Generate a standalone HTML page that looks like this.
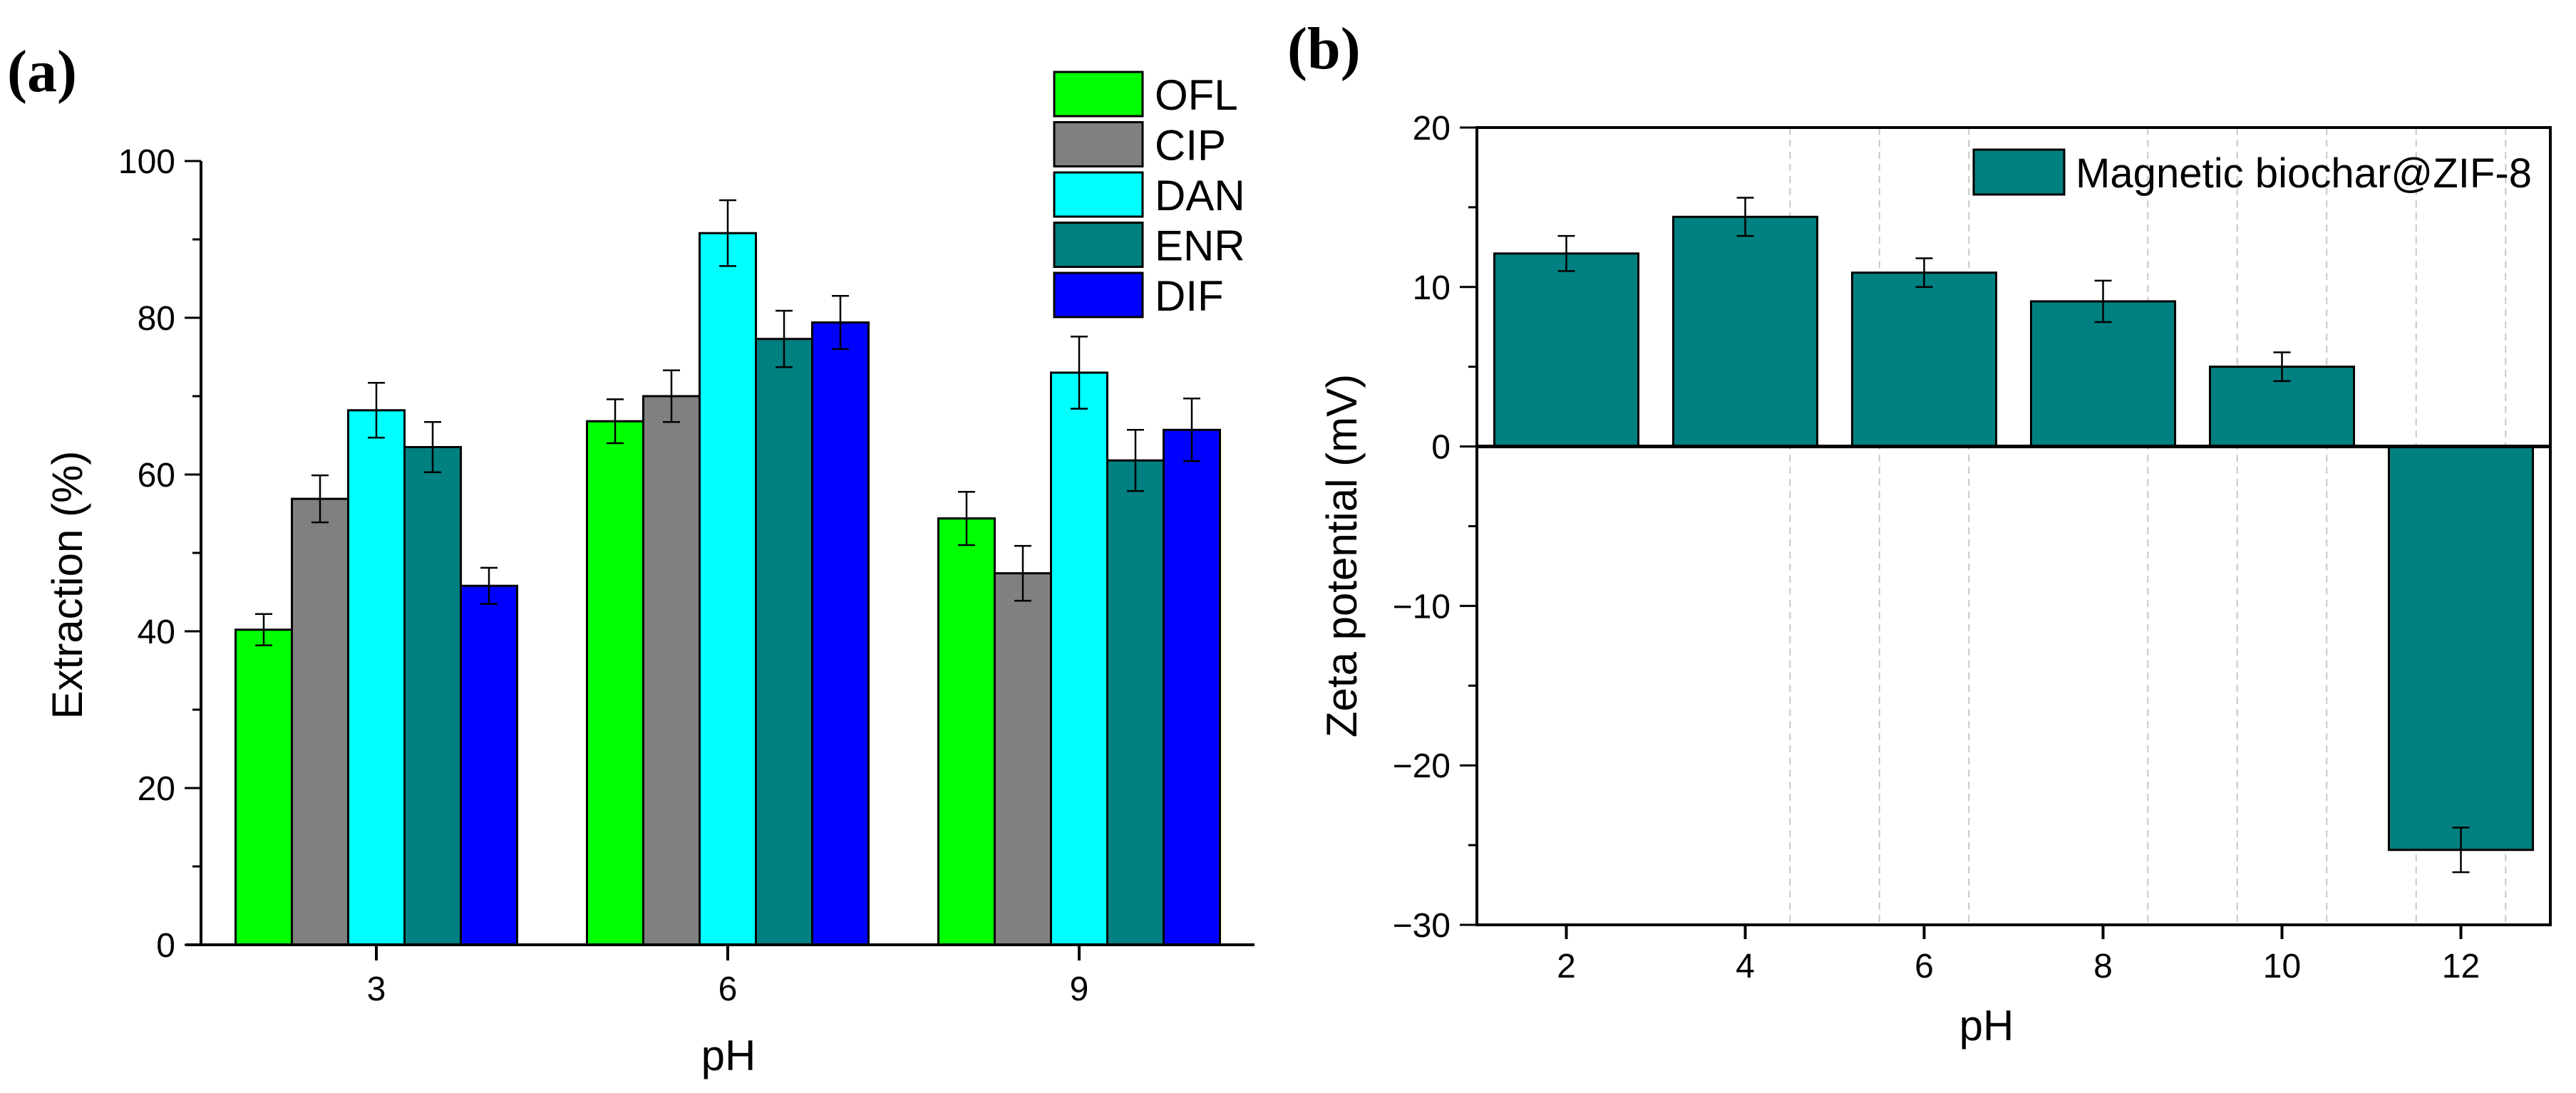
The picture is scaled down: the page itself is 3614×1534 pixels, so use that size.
<!DOCTYPE html>
<html><head><meta charset="utf-8"><style>
html,body{margin:0;padding:0;background:#fff;}
svg{display:block;font-family:"Liberation Sans",Arial,sans-serif;}
</style></head><body>
<svg id="fig" width="3614" height="1534" viewBox="0 0 3614 1534">
<text x="10" y="128" font-family="Liberation Serif, serif" font-weight="bold" font-size="84">(a)</text>
<text x="1806" y="96" font-family="Liberation Serif, serif" font-weight="bold" font-size="84">(b)</text>
<g id="ca"></g>
<g id="cb"></g>
</svg>
<script>
// Chart A data
const aCategories = ["3","6","9"];
const aSeries = ["OFL","CIP","DAN","ENR","DIF"];
const aColors = ["#00ff00","#808080","#00ffff","#008080","#0000ff"];
const aOFL = [40.2,66.8,54.4];
const aCIP = [56.9,70.0,47.4];
const aDAN = [68.2,90.8,73.0];
const aENR = [63.5,77.3,61.8];
const aDIF = [45.8,79.4,65.7];
const aErrOFL = [2.0,2.8,3.4];
const aErrCIP = [3.0,3.3,3.5];
const aErrDAN = [3.5,4.2,4.6];
const aErrENR = [3.2,3.6,3.9];
const aErrDIF = [2.3,3.4,4.0];
const aYTicks = [0,20,40,60,80,100];
// Chart B data
const bCategories = [2,4,6,8,10,12];
const bValues = [12.1,14.4,10.9,9.1,5.0,-25.3];
const bErrors = [1.1,1.2,0.9,1.3,0.9,1.4];
const bYTicks = [20,10,0,-10,-20,-30];
const bGrid = [4.5,5.5,6.5,8.5,9.5,10.5,11.5,12.5];

const NS="http://www.w3.org/2000/svg";
function mk(parent,tag,attrs,text){const e=document.createElementNS(NS,tag);for(const k in attrs)e.setAttribute(k,attrs[k]);if(text!==undefined)e.textContent=text;parent.appendChild(e);return e;}

// ---------- Chart A ----------
const ga=document.getElementById('ca');
const aX0=282, aXEnd=1760, aY0=1326, aY100=226;
const ay=v=>aY0+(aY100-aY0)*v/100;
const aGroupX=i=>528+i*493;
const aBarW=79;
const aVals=[aOFL,aCIP,aDAN,aENR,aDIF];
const aErrs=[aErrOFL,aErrCIP,aErrDAN,aErrENR,aErrDIF];
aCategories.forEach((c,i)=>{
  aSeries.forEach((s,j)=>{
    const v=aVals[j][i], e=aErrs[j][i];
    const x=aGroupX(i)-2.5*aBarW+j*aBarW;
    const r=mk(ga,'rect',{x:x,y:ay(v),width:aBarW,height:aY0-ay(v),fill:aColors[j],stroke:'#000','stroke-width':3});
    
    
    const cx=x+aBarW/2;
    const eb=mk(ga,'path',{d:`M${cx},${ay(v+e)}V${ay(v-e)}M${cx-12},${ay(v+e)}h24M${cx-12},${ay(v-e)}h24`,stroke:'#000','stroke-width':2.5,fill:'none'});
    
    
  });
  const t=mk(ga,'line',{x1:aGroupX(i),x2:aGroupX(i),y1:aY0,y2:aY0+22,stroke:'#000','stroke-width':4});
  
  
  const l=mk(ga,'text',{x:aGroupX(i),y:aY0+78,'font-size':48,'text-anchor':'middle'},c);
  
  
});
for(let v=0;v<=100;v+=10){
  const major=aYTicks.includes(v);
  const t=mk(ga,'line',{x1:aX0-(major?23:12),x2:aX0,y1:ay(v),y2:ay(v),stroke:'#000','stroke-width':3});
  
  
}
aYTicks.forEach(v=>{
  const l=mk(ga,'text',{x:246,y:ay(v)+17,'font-size':48,'text-anchor':'end'},String(v));
  
  
});
const aAxY=mk(ga,'line',{x1:aX0,x2:aX0,y1:aY100,y2:aY0+2,stroke:'#000','stroke-width':4});


const aAxX=mk(ga,'line',{x1:261,x2:aXEnd,y1:aY0,y2:aY0,stroke:'#000','stroke-width':4});


const aYT=mk(ga,'text',{x:0,y:0,'font-size':60,'text-anchor':'middle',transform:'translate(115,821) rotate(-90)'},'Extraction (%)');


const aXT=mk(ga,'text',{x:1022,y:1502,'font-size':60,'text-anchor':'middle'},'pH');


aSeries.forEach((s,j)=>{
  const y=101+j*70.5;
  const b=mk(ga,'rect',{x:1479,y:y,width:124,height:62,fill:aColors[j],stroke:'#000','stroke-width':3});
  
  
  const t=mk(ga,'text',{x:1620,y:y+53,'font-size':60},s);
  
  
});

// ---------- Chart B ----------
const gb=document.getElementById('cb');
const bL=2072,bR=3578,bT=179,bB=1298;
const bx=p=>bL+(p-1)*(bR-bL)/12;
const by=v=>bT+(20-v)*(bB-bT)/50;
bGrid.forEach(p=>{
  const g=mk(gb,'line',{x1:bx(p),x2:bx(p),y1:bT,y2:bB,stroke:'#c8c8c8','stroke-width':2,'stroke-dasharray':'10,7'});
  
  
});
const bw=1.61*(bR-bL)/12;
bCategories.forEach((p,i)=>{
  const v=bValues[i],e=bErrors[i];
  const top=Math.min(by(v),by(0)),h=Math.abs(by(v)-by(0));
  const r=mk(gb,'rect',{x:bx(p)-bw/2,y:top,width:bw,height:h,fill:'#008080',stroke:'#000','stroke-width':3});
  
  
  const cx=bx(p);
  const eb=mk(gb,'path',{d:`M${cx},${by(v+e)}V${by(v-e)}M${cx-12},${by(v+e)}h24M${cx-12},${by(v-e)}h24`,stroke:'#000','stroke-width':2.5,fill:'none'});
  
  
  const t=mk(gb,'line',{x1:cx,x2:cx,y1:bB,y2:bB+20,stroke:'#000','stroke-width':4});
  
  
  const l=mk(gb,'text',{x:cx,y:bB+74,'font-size':48,'text-anchor':'middle'},String(p));
  
  
});
const zl=mk(gb,'line',{x1:bL,x2:bR,y1:by(0),y2:by(0),stroke:'#000','stroke-width':5});


const fr=mk(gb,'rect',{x:bL,y:bT,width:bR-bL,height:bB-bT,fill:'none',stroke:'#000','stroke-width':4});


for(let v=-30;v<=20;v+=5){
  const major=bYTicks.includes(v);
  const t=mk(gb,'line',{x1:bL-(major?24:12),x2:bL,y1:by(v),y2:by(v),stroke:'#000','stroke-width':3});
  
  
}
bYTicks.forEach(v=>{
  const l=mk(gb,'text',{x:2035,y:by(v)+17,'font-size':48,'text-anchor':'end'},v<0?'\u2212'+Math.abs(v):String(v));
  
  
});
const bYT=mk(gb,'text',{x:0,y:0,'font-size':60,'text-anchor':'middle',transform:'translate(1903,780) rotate(-90)'},'Zeta potential (mV)');


const bXT=mk(gb,'text',{x:2787,y:1460,'font-size':60,'text-anchor':'middle'},'pH');


const lb=mk(gb,'rect',{x:2769,y:210,width:127,height:63,fill:'#008080',stroke:'#000','stroke-width':3});


const lt=mk(gb,'text',{x:2912,y:263,'font-size':58,textLength:640,lengthAdjust:'spacingAndGlyphs'},'Magnetic biochar@ZIF-8');


</script>
</body></html>
